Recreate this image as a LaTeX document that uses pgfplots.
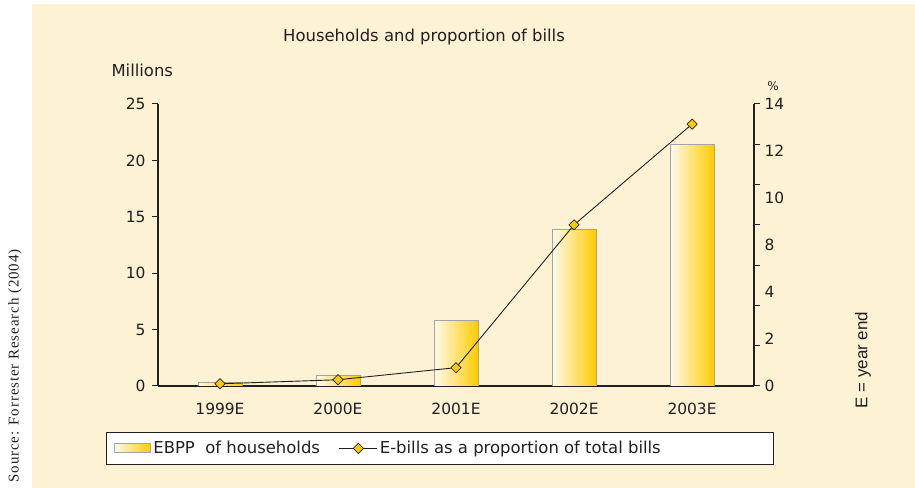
\documentclass[border=0pt]{standalone}
\usepackage{pgfplots}
\pgfplotsset{compat=1.18}
\usepackage{fontspec}
\setmainfont{DejaVu Sans}
\newfontfamily\srcfont[LetterSpace=6]{Liberation Serif}
\newfontfamily\arialfont{Liberation Sans}
\definecolor{bgcream}{HTML}{FDF2D4}
\definecolor{gold}{HTML}{FFCC00}
\definecolor{barlight}{HTML}{FFFAEC}
\definecolor{barborder}{HTML}{A3A3A3}
\definecolor{txt}{HTML}{231F20}
\pgfplotsset{
  linelegend/.style={legend image code/.code={\draw[mark repeat=2, mark phase=2, ##1] plot coordinates {(0bp,0bp) (19bp,0bp) (38bp,0bp)};}},
  barlegend/.style={legend image code/.code={\draw[draw=barborder, line width=0.9pt, left color=barlight, right color=gold] (0bp,-4.5bp) rectangle (36bp,4.5bp);}},
  onebar/.style={ybar, bar width=44bp, bar shift=0pt, draw=barborder, line width=0.9pt, left color=barlight, right color=gold},
}
\begin{document}
\begin{tikzpicture}[x=1bp,y=1bp]
\useasboundingbox (0,0) rectangle (915,488);
\fill[bgcream] (32,0) rectangle (915,484);
\node[rotate=90, font=\srcfont\fontsize{15}{17}\selectfont, text=txt] at (15,122) {Source: Forrester Research (2004)};
\node[rotate=90, font=\arialfont\fontsize{17}{19}\selectfont, text=txt] at (863,128) {E = year end};
\node[font=\fontsize{16.5}{18}\selectfont, text=txt] at (424,451) {Households and proportion of bills};
\node[font=\fontsize{16.5}{18}\selectfont, text=txt, anchor=west] at (108,418) {Millions};
\node[font=\fontsize{12}{14}\selectfont, text=txt] at (773,402) {\%};
\begin{axis}[
  at={(158bp,102bp)}, anchor=south west,
  scale only axis, width=596bp, height=282bp,
  xmin=-0.525, xmax=4.525,
  ymin=0, ymax=25,
  axis x line*=bottom, axis y line*=left,
  axis line style={txt, line width=1.2pt, -},
  xtick={0,1,2,3,4},
  xticklabels={1999E,2000E,2001E,2002E,2003E},
  x tick style={draw=none},
  ytick={0,5,10,15,20,25},
  tick align=outside,
  y tick style={txt, line width=1pt},
  major tick length=6bp,
  /pgf/number format/assume math mode=true,
  tick label style={font=\fontsize{15.5}{18}\selectfont, text=txt},
  xticklabel style={yshift=-8bp},
  yticklabel style={xshift=-3bp},
  legend columns=2,
  legend style={at={(-0.0872,-0.163)}, anchor=north west, draw=txt, line width=0.9pt, fill=white,
    font=\fontsize{16.5}{18}\selectfont, text=txt, inner xsep=8bp, inner ysep=7bp,
    /tikz/every even column/.append style={column sep=17bp}},
]
\addplot[onebar, barlegend] coordinates {(0,0.3)};
\addlegendentry{EBPP\ \ of households}
\addplot[onebar, forget plot] coordinates {(1,0.95)};
\addplot[onebar, forget plot] coordinates {(2,5.85)};
\addplot[onebar, forget plot] coordinates {(3,13.9)};
\addplot[onebar, forget plot] coordinates {(4,21.45)};
\addlegendimage{txt, line width=0.9pt, mark=square*, mark size=3.6bp, mark options={rotate=45, fill=gold, draw=txt, line width=0.7pt}, linelegend}
\addlegendentry{\makebox[384bp][l]{E-bills as a proportion of total bills}}
\end{axis}
\begin{axis}[
  at={(158bp,102bp)}, anchor=south west,
  scale only axis, width=596bp, height=282bp,
  xmin=-0.525, xmax=4.525,
  ymin=0, ymax=14,
  axis x line=none, axis y line*=right,
  axis line style={txt, line width=1.2pt, -},
  ytick={0,2,4,6,8,10,12,14},
  yticklabels={},
  extra y ticks={0,2.33333,4.66667,7,9.33333,11.66667,14},
  extra y tick labels={0,2,4,8,10,12,14},
  extra y tick style={major tick length=0pt},
  tick align=outside,
  y tick style={txt, line width=1pt},
  major tick length=6bp,
  /pgf/number format/assume math mode=true,
  tick label style={font=\fontsize{15.5}{18}\selectfont, text=txt},
  yticklabel style={xshift=7bp},
]
\addplot[txt, line width=0.9pt, mark=square*, mark size=3.6bp, mark options={rotate=45, fill=gold, draw=txt, line width=0.7pt}]
  coordinates {(0,0.11) (1,0.31) (2,0.91) (3,8.0) (4,13.0)};
\end{axis}
\end{tikzpicture}
\end{document}
